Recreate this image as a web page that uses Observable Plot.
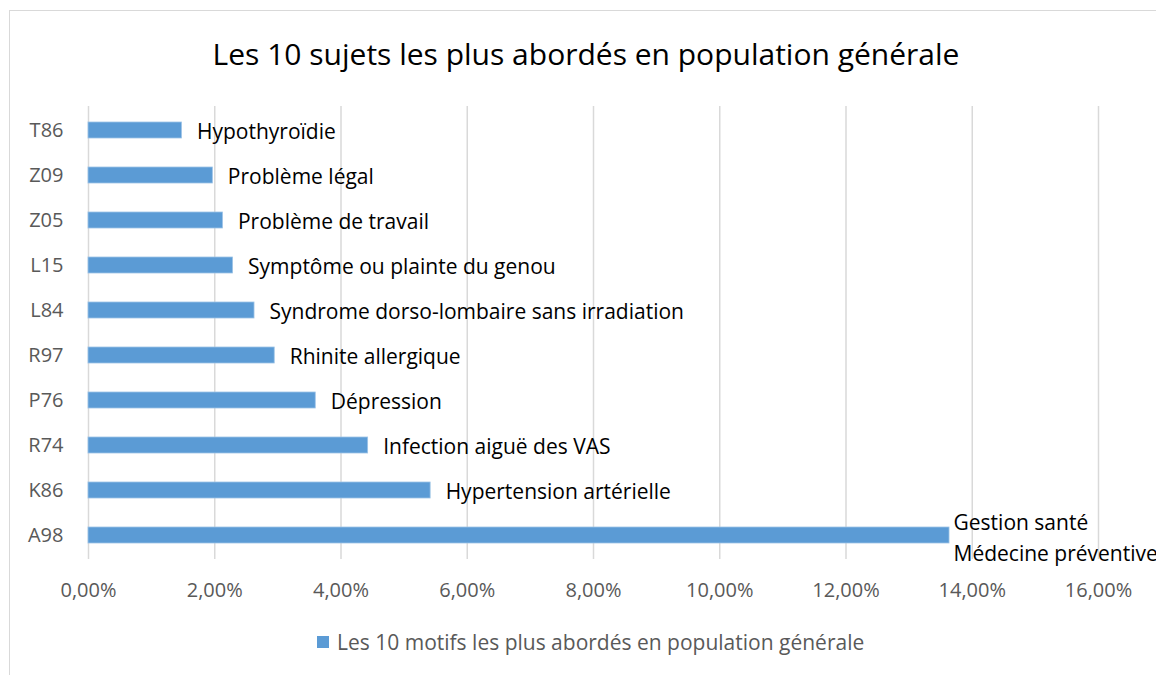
<!DOCTYPE html>
<html><head><meta charset="utf-8">
<script src="https://cdn.jsdelivr.net/npm/d3@7"></script>
<script src="https://cdn.jsdelivr.net/npm/@observablehq/plot@0.6"></script>
<style>
body{margin:0;background:#fff;font-family:"Open Sans",sans-serif;width:1156px;height:675px;overflow:hidden;position:relative;}
#frame{position:absolute;left:9px;top:10px;width:1200px;height:700px;border:1px solid #d9d9d9;box-sizing:border-box;}
#title{position:absolute;left:9px;top:33px;width:1154px;text-align:center;font-size:30px;color:#000;white-space:nowrap;}
#chart{position:absolute;left:0;top:80px;}
#legend{position:absolute;left:317px;top:628px;font-size:21px;color:#595959;white-space:nowrap;display:flex;align-items:center;}
#legend span.sw{display:inline-block;width:12px;height:12px;background:#5b9bd5;margin-right:8px;}
</style></head>
<body>
<div id="frame"></div>
<div id="title">Les 10 sujets les plus abordés en population générale</div>
<div id="chart"></div>
<div id="legend"><span class="sw"></span><span>Les 10 motifs les plus abordés en population générale</span></div>
<script>
const codes = ["T86","Z09","Z05","L15","L84","R97","P76","R74","K86","A98"];
const values = [0.0148,0.0197,0.0213,0.0229,0.0263,0.0295,0.0360,0.0443,0.0542,0.1364];
const labels = ["Hypothyroïdie","Problème légal","Problème de travail","Symptôme ou plainte du genou","Syndrome dorso-lombaire sans irradiation","Rhinite allergique","Dépression","Infection aiguë des VAS","Hypertension artérielle","Gestion santé\nMédecine préventive"];
const xTicks = [0,0.02,0.04,0.06,0.08,0.10,0.12,0.14,0.16];

const rows = codes.map((c,i)=>({code:c,value:values[i],label:labels[i]}));
const fmt = d => (d*100).toFixed(2).replace(".",",")+"%";

const chart = Plot.plot({
  width:1156, height:529,
  marginLeft:88, marginRight:58, marginTop:26, marginBottom:50,
  style:{fontFamily:"Open Sans", fontSize:"20px", background:"transparent", overflow:"visible"},
  x:{domain:[0,0.16]},
  y:{domain:codes, paddingInner:0.65, paddingOuter:0.3},
  marks:[
    Plot.gridX(xTicks,{stroke:"#d9d9d9", strokeOpacity:1, strokeWidth:1.5}),
    Plot.axisX({ticks:xTicks, tickFormat:fmt, tickSize:0, tickPadding:23, fill:"#595959", label:null}),
    Plot.axisY({tickSize:0, tickPadding:25, fill:"#595959", label:null}),
    Plot.barX(rows,{x:"value", y:"code", fill:"#5b9bd5", stroke:"#9dc3e6", strokeWidth:0.8}),
    Plot.text(rows.filter(d=>d.code!=="A98"),{x:"value", y:"code", text:"label", textAnchor:"start", dx:15, dy:2, fill:"#000", fontSize:21}),
    Plot.text(rows.filter(d=>d.code==="A98"),{x:"value", y:"code", text:"label", textAnchor:"start", dx:4, fill:"#000", fontSize:21, lineHeight:1.5})
  ]
});
document.getElementById("chart").appendChild(chart);
</script>
</body></html>
